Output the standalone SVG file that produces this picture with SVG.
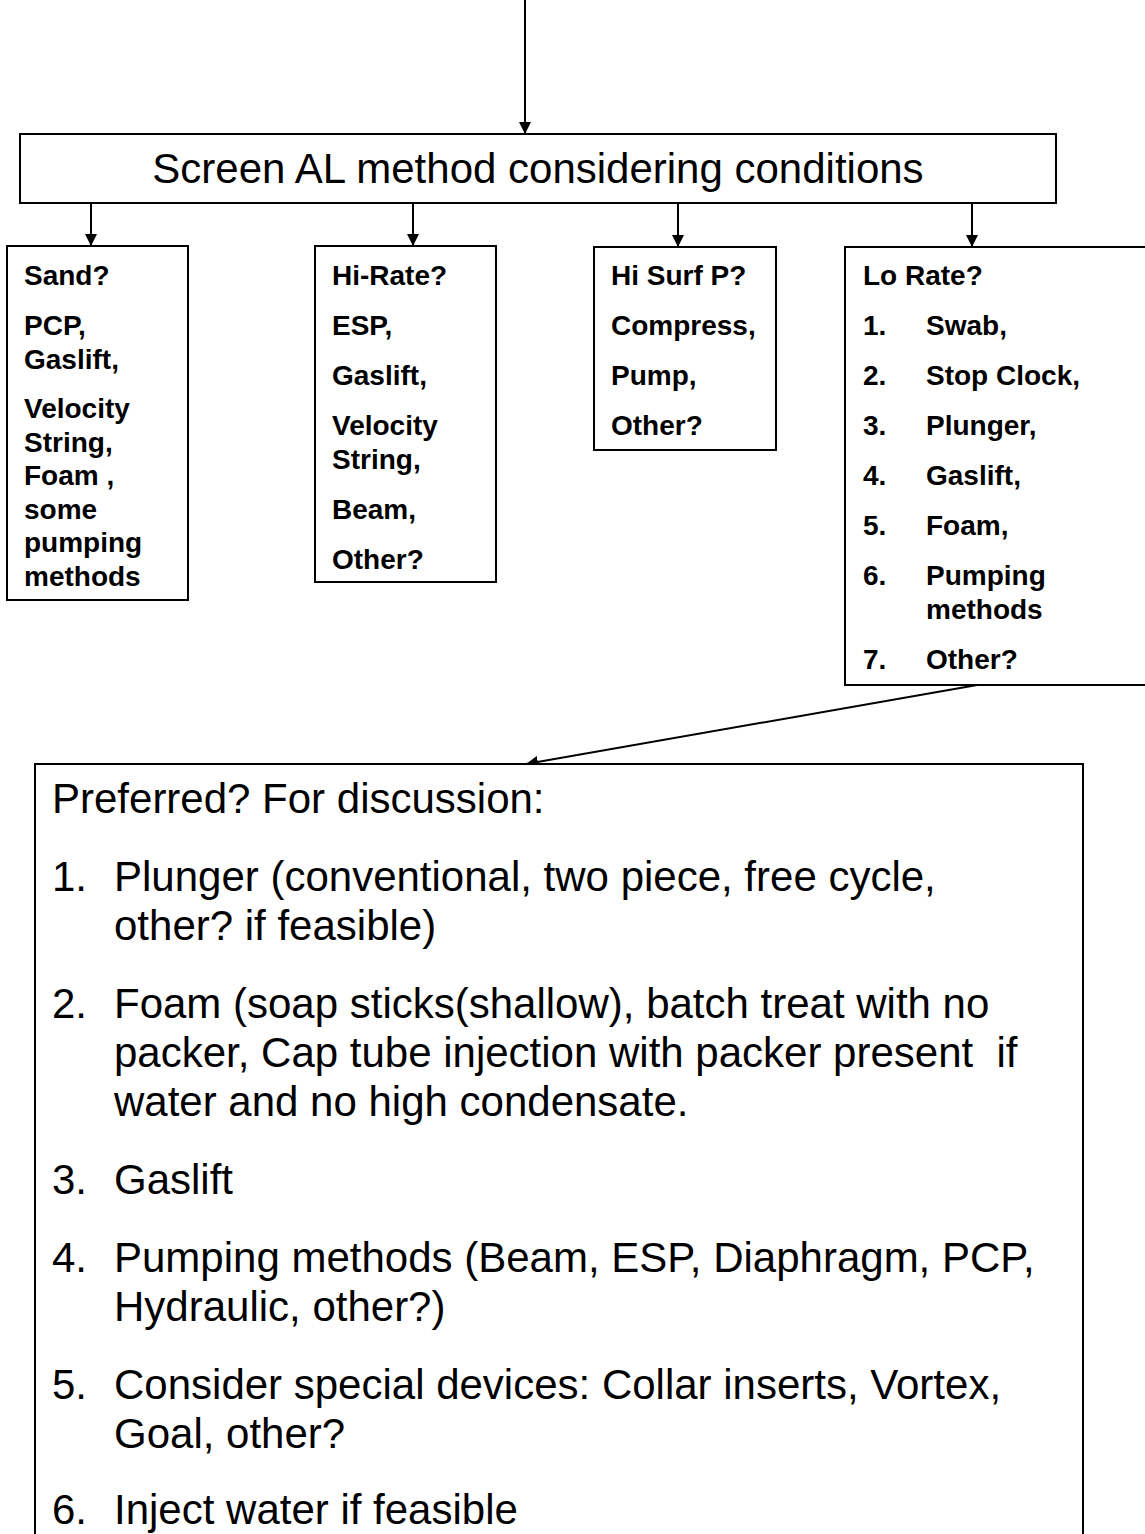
<svg xmlns="http://www.w3.org/2000/svg" width="1145" height="1534" viewBox="0 0 1145 1534">
<style>
.box{fill:#fff;stroke:#000;stroke-width:2}
.b{font-family:"Liberation Sans",Arial,sans-serif;font-weight:bold;font-size:28px;fill:#000}
.r{font-family:"Liberation Sans",Arial,sans-serif;font-size:42px;fill:#000}
.c{stroke:#000;stroke-width:2;fill:none}
</style>
<defs>
<marker id="ah" markerUnits="userSpaceOnUse" markerWidth="12" markerHeight="12" viewBox="0 0 12 12" refX="12" refY="6" orient="auto">
<path d="M0,0 L12,6 L0,12 z" fill="#000"/>
</marker>
</defs>
<rect width="1145" height="1534" fill="#fff"/>
<g id="connectors">
<line class="c" x1="525" y1="0" x2="525" y2="134" marker-end="url(#ah)"/>
<line class="c" x1="91" y1="204" x2="91" y2="246" marker-end="url(#ah)"/>
<line class="c" x1="413" y1="204" x2="413" y2="246" marker-end="url(#ah)"/>
<line class="c" x1="678" y1="204" x2="678" y2="247" marker-end="url(#ah)"/>
<line class="c" x1="972" y1="204" x2="972" y2="247" marker-end="url(#ah)"/>
<line class="c" x1="1000" y1="681" x2="526" y2="764" marker-end="url(#ah)"/>
</g>
<g id="screen">
<rect class="box" x="20" y="134" width="1036" height="69"/>
<text class="r" x="538" y="183" text-anchor="middle">Screen AL method considering conditions</text>
</g>
<g id="sand">
<rect class="box" x="7" y="246" width="181" height="354"/>
<text class="b" x="24" y="285">Sand?</text>
<text class="b" x="24" y="335">PCP,</text>
<text class="b" x="24" y="369">Gaslift,</text>
<text class="b" x="24" y="418">Velocity</text>
<text class="b" x="24" y="451.5">String,</text>
<text class="b" x="24" y="485">Foam ,</text>
<text class="b" x="24" y="518.5">some</text>
<text class="b" x="24" y="552">pumping</text>
<text class="b" x="24" y="585.5">methods</text>
</g>
<g id="hirate">
<rect class="box" x="315" y="246" width="181" height="336"/>
<text class="b" x="332" y="285">Hi-Rate?</text>
<text class="b" x="332" y="335">ESP,</text>
<text class="b" x="332" y="385">Gaslift,</text>
<text class="b" x="332" y="435">Velocity</text>
<text class="b" x="332" y="468.5">String,</text>
<text class="b" x="332" y="518.5">Beam,</text>
<text class="b" x="332" y="568.5">Other?</text>
</g>
<g id="hisurf">
<rect class="box" x="594" y="247" width="182" height="203"/>
<text class="b" x="611" y="285">Hi Surf P?</text>
<text class="b" x="611" y="335">Compress,</text>
<text class="b" x="611" y="385">Pump,</text>
<text class="b" x="611" y="435">Other?</text>
</g>
<g id="lorate">
<rect class="box" x="845" y="247" width="310" height="438"/>
<text class="b" x="863" y="285">Lo Rate?</text>
<text class="b" x="863" y="335">1.</text><text class="b" x="926" y="335">Swab,</text>
<text class="b" x="863" y="385">2.</text><text class="b" x="926" y="385">Stop Clock,</text>
<text class="b" x="863" y="435">3.</text><text class="b" x="926" y="435">Plunger,</text>
<text class="b" x="863" y="485">4.</text><text class="b" x="926" y="485">Gaslift,</text>
<text class="b" x="863" y="535">5.</text><text class="b" x="926" y="535">Foam,</text>
<text class="b" x="863" y="585">6.</text><text class="b" x="926" y="585">Pumping</text>
<text class="b" x="926" y="618.5">methods</text>
<text class="b" x="863" y="668.5">7.</text><text class="b" x="926" y="668.5">Other?</text>
</g>
<g id="preferred">
<rect class="box" x="35" y="764" width="1048" height="790"/>
<text class="r" x="52" y="813">Preferred? For discussion:</text>
<text class="r" x="52" y="891">1.</text><text class="r" x="114" y="891">Plunger (conventional, two piece, free cycle,</text>
<text class="r" x="114" y="940">other? if feasible)</text>
<text class="r" x="52" y="1018">2.</text><text class="r" x="114" y="1018">Foam (soap sticks(shallow), batch treat with no</text>
<text class="r" x="114" y="1067" xml:space="preserve">packer, Cap tube injection with packer present  if</text>
<text class="r" x="114" y="1116">water and no high condensate.</text>
<text class="r" x="52" y="1194">3.</text><text class="r" x="114" y="1194">Gaslift</text>
<text class="r" x="52" y="1272">4.</text><text class="r" x="114" y="1272">Pumping methods (Beam, ESP, Diaphragm, PCP,</text>
<text class="r" x="114" y="1321">Hydraulic, other?)</text>
<text class="r" x="52" y="1399">5.</text><text class="r" x="114" y="1399">Consider special devices: Collar inserts, Vortex,</text>
<text class="r" x="114" y="1448">Goal, other?</text>
<text class="r" x="52" y="1524">6.</text><text class="r" x="114" y="1524">Inject water if feasible</text>
</g>
</svg>
